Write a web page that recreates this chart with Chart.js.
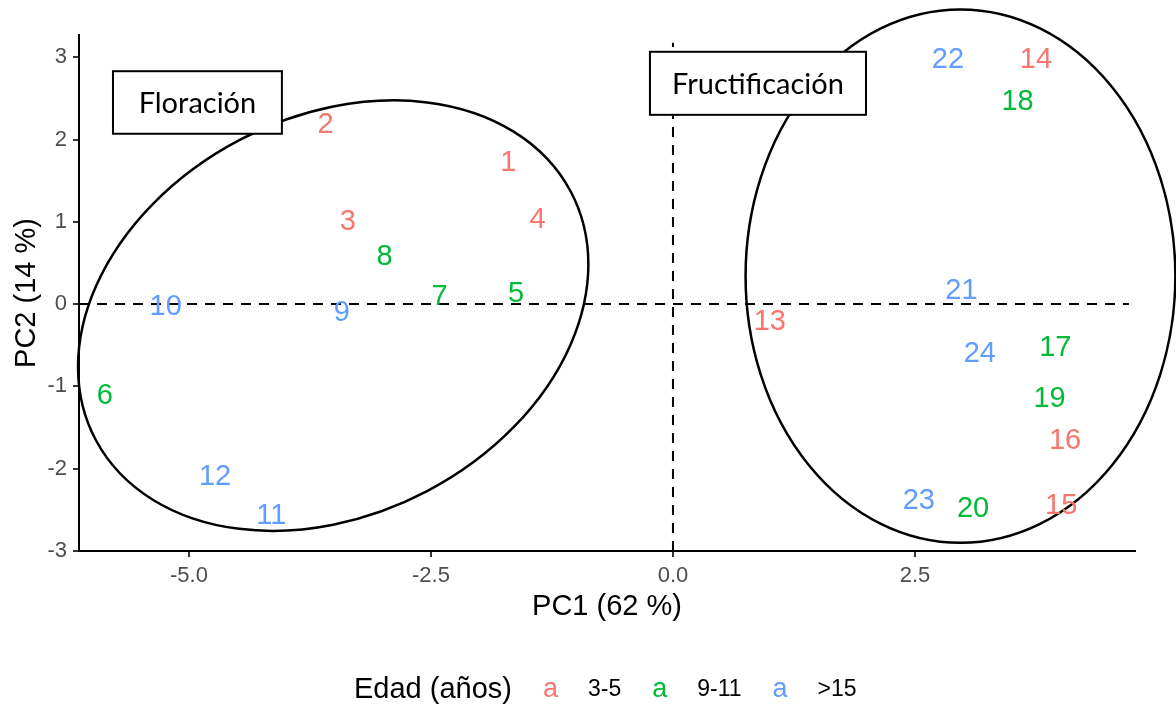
<!DOCTYPE html>
<html lang="es">
<head>
<meta charset="UTF-8">
<title>PCA - Floración y Fructificación</title>
<script src="https://cdn.jsdelivr.net/npm/chart.js"></script>
<style>
  html, body { margin: 0; padding: 0; background: #fff; }
  #wrap { width: 1176px; height: 710px; }
</style>
</head>
<body>
<div id="wrap"><canvas id="pca" width="1176" height="710"></canvas></div>
<script>
// Individual scores on the first two components, with age class
const ids = ['1','2','3','4','5','6','7','8','9','10','11','12',
             '13','14','15','16','17','18','19','20','21','22','23','24'];
const pc1 = [-1.70, -3.59, -3.36, -1.40, -1.62, -5.87, -2.41, -2.98, -3.42, -5.24, -4.15, -4.73,
              1.00,  3.75,  4.01,  4.05,  3.95,  3.56,  3.89,  3.10,  2.98,  2.84,  2.54,  3.17];
const pc2 = [ 1.73,  2.19,  1.01,  1.03,  0.14, -1.10,  0.10,  0.58, -0.10, -0.02, -2.56, -2.09,
             -0.20,  2.98, -2.44, -1.65, -0.52,  2.47, -1.14, -2.48,  0.17,  2.98, -2.38, -0.60];
// 0 = 3-5, 1 = 9-11, 2 = >15
const ageGroup = [0,0,0,0,1,1,1,1,2,2,2,2,
                  0,0,0,0,1,1,1,1,2,2,2,2];

const groups = ['3-5', '9-11', '>15'];
const groupColors = ['#F8766D', '#00BA38', '#619CFF'];
const legendTitle = 'Edad (años)';

const xTitle = 'PC1 (62 %)';
const yTitle = 'PC2 (14 %)';
const xTicks = [-5, -2.5, 0, 2.5];
const yTicks = [-3, -2, -1, 0, 1, 2, 3];
const xRange = [-6.136, 4.773];
const yRange = [-3, 3.27];

// dashed reference lines through the origin
const hLineX = [-6.136, 4.71];
const vLineY = [-3, 3.175];

// phenology groups: ellipse centre + two semi-axis vectors (data units)
const ellipses = [
  { cx: -3.51, cy: -0.14, u: [2.636, 0.623], v: [0, 2.540] },
  { cx:  2.97, cy:  0.34, u: [2.22, 0],      v: [0, 3.24] }
];
const boxes = [
  { text: 'Floración',      x0: -5.785, x1: -4.04, y0: 2.07, y1: 2.83 },
  { text: 'Fructificación', x0: -0.238, x1: 1.994, y0: 2.30, y1: 3.066 }
];

const SANS = '"Liberation Sans", Arial, sans-serif';

const datasets = groups.map((g, gi) => ({
  label: g,
  data: ids.map((id, i) => ({ x: pc1[i], y: pc2[i], id: id, g: ageGroup[i] }))
           .filter(p => p.g === gi),
  pointRadius: 0,
  pointHoverRadius: 0,
  showLine: false,
  color: groupColors[gi]
}));

const dashed = {
  showLine: true, pointRadius: 0, borderColor: '#000', borderWidth: 2,
  borderDash: [10, 8], fill: false
};
datasets.push(Object.assign({ label: 'h0', data: hLineX.map(x => ({ x: x, y: 0 })) }, dashed));
datasets.push(Object.assign({ label: 'v0', data: vLineY.map(y => ({ x: 0, y: y })) }, dashed));

const overlay = {
  id: 'overlay',
  afterDatasetsDraw(chart) {
    const ctx = chart.ctx;
    const xs = chart.scales.x, ys = chart.scales.y;

    // ellipses (not clipped, they run past the panel)
    ellipses.forEach(e => {
      const cx = xs.getPixelForValue(e.cx), cy = ys.getPixelForValue(e.cy);
      const ux = xs.getPixelForValue(e.cx + e.u[0]) - cx, uy = ys.getPixelForValue(e.cy + e.u[1]) - cy;
      const vx = xs.getPixelForValue(e.cx + e.v[0]) - cx, vy = ys.getPixelForValue(e.cy + e.v[1]) - cy;
      ctx.save();
      ctx.beginPath();
      ctx.save();
      ctx.transform(ux, uy, vx, vy, cx, cy);
      ctx.arc(0, 0, 1, 0, Math.PI * 2);
      ctx.restore();
      ctx.lineWidth = 2.5;
      ctx.strokeStyle = '#000';
      ctx.stroke();
      ctx.restore();
    });

    // point labels
    ctx.save();
    ctx.font = '29px ' + SANS;
    ctx.textAlign = 'center';
    ctx.textBaseline = 'middle';
    for (let d = 0; d < groups.length; d++) {
      const meta = chart.getDatasetMeta(d);
      const ds = chart.data.datasets[d];
      ctx.fillStyle = ds.color;
      meta.data.forEach((el, j) => ctx.fillText(ds.data[j].id, el.x, el.y + 1));
    }
    ctx.restore();

    // annotation boxes
    boxes.forEach(b => {
      const l = xs.getPixelForValue(b.x0), r = xs.getPixelForValue(b.x1);
      const t = ys.getPixelForValue(b.y1), bt = ys.getPixelForValue(b.y0);
      ctx.save();
      ctx.fillStyle = '#fff';
      ctx.fillRect(l, t, r - l, bt - t);
      ctx.lineWidth = 2;
      ctx.strokeStyle = '#000';
      ctx.strokeRect(l, t, r - l, bt - t);
      ctx.fillStyle = '#000';
      ctx.font = '29px Lato, "Open Sans", sans-serif';
      ctx.textAlign = 'center';
      ctx.textBaseline = 'middle';
      ctx.fillText(b.text, (l + r) / 2, (t + bt) / 2 + 1);
      ctx.restore();
    });
  },
  afterDraw(chart) {
    // legend row under the x axis title
    const ctx = chart.ctx;
    const y = 690;
    ctx.save();
    ctx.textBaseline = 'middle';
    ctx.textAlign = 'left';
    ctx.fillStyle = '#000';
    ctx.font = '29px ' + SANS;
    let x = 354;
    ctx.fillText(legendTitle, x, y);
    x += ctx.measureText(legendTitle).width + 31;
    groups.forEach((g, i) => {
      ctx.font = '27px ' + SANS;
      ctx.fillStyle = groupColors[i];
      ctx.fillText('a', x, y);
      x += ctx.measureText('a').width + 30;
      ctx.font = '23px ' + SANS;
      ctx.fillStyle = '#000';
      ctx.fillText(g, x, y);
      x += ctx.measureText(g).width + 31;
    });
    ctx.restore();
  }
};

new Chart(document.getElementById('pca'), {
  type: 'scatter',
  data: { datasets: datasets },
  plugins: [overlay],
  options: {
    responsive: false,
    animation: false,
    events: [],
    layout: { padding: { top: 35, right: 41, left: 0, bottom: 0 } },
    plugins: { legend: { display: false }, tooltip: { enabled: false } },
    scales: {
      x: {
        type: 'linear',
        min: xRange[0], max: xRange[1],
        afterBuildTicks: s => { s.ticks = xTicks.map(v => ({ value: v })); },
        afterFit: s => { s.height = 159; },
        ticks: {
          color: '#4D4D4D', padding: 6,
          font: { family: SANS, size: 22 },
          callback: v => v.toFixed(1)
        },
        grid: { drawOnChartArea: false, drawTicks: true, tickLength: 6, color: '#333', lineWidth: 2 },
        border: { display: true, color: '#000', width: 2 },
        title: {
          display: true, text: xTitle, color: '#000',
          font: { family: SANS, size: 29 }, padding: { top: 0, bottom: 86 }
        }
      },
      y: {
        type: 'linear',
        min: yRange[0], max: yRange[1],
        afterBuildTicks: s => { s.ticks = yTicks.map(v => ({ value: v })); },
        afterFit: s => { s.width = 79; },
        ticks: {
          color: '#4D4D4D', padding: 6,
          font: { family: SANS, size: 22 },
          callback: v => String(v)
        },
        grid: { drawOnChartArea: false, drawTicks: true, tickLength: 6, color: '#333', lineWidth: 2 },
        border: { display: true, color: '#000', width: 2 },
        title: {
          display: true, text: yTitle, color: '#000',
          font: { family: SANS, size: 29 }, padding: { top: 10, bottom: 0 }
        }
      }
    }
  }
});
</script>
</body>
</html>
